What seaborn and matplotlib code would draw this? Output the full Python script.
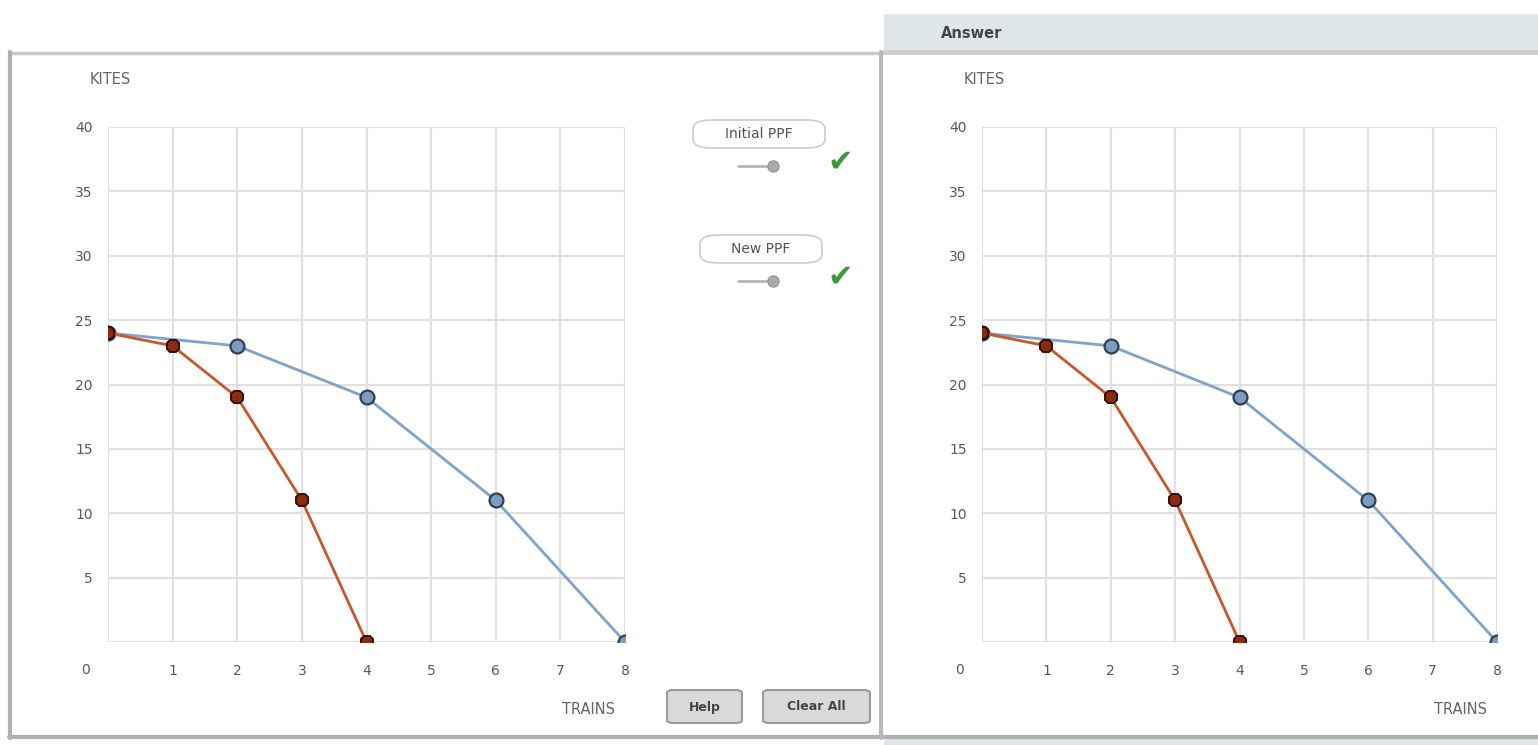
import numpy as np
import matplotlib
matplotlib.use("Agg")
import matplotlib.pyplot as plt
from matplotlib.patches import Rectangle, FancyBboxPatch
from matplotlib.lines import Line2D
import seaborn as sns

sns.set_theme(style="white")
plt.rcParams['font.family'] = ['DejaVu Sans']

# data
trains_initial = [0, 2, 4, 6, 8]
kites_initial = [24, 23, 19, 11, 0]
trains_new = [0, 1, 2, 3, 4]
kites_new = [24, 23, 19, 11, 0]
x_ticks = [1, 2, 3, 4, 5, 6, 7, 8]
y_ticks = [5, 10, 15, 20, 25, 30, 35, 40]
legend_labels = ["Initial PPF", "New PPF"]

W, H = 1538, 745
fig = plt.figure(figsize=(W / 100, H / 100), dpi=100)
fig.patch.set_facecolor("white")

blue_line = "#7fa3c9"
blue_fill = "#7d9cc0"
blue_edge = "#2e3f56"
red_line = "#c9572c"
red_fill = "#8a2c12"
red_edge = "#3c0c02"
txt = "#5a5a5a"


def fx(x):
    return x / W


def fy(y):
    return 1 - y / H


def rect(x0, y0, x1, y1, **kw):
    fig.patches.append(Rectangle((fx(x0), fy(y1)), fx(x1 - x0), (y1 - y0) / H,
                                 transform=fig.transFigure, **kw))


def hline(x0, x1, y, **kw):
    fig.lines.append(Line2D([fx(x0), fx(x1)], [fy(y), fy(y)], transform=fig.transFigure, **kw))


def vline(x, y0, y1, **kw):
    fig.lines.append(Line2D([fx(x), fx(x)], [fy(y0), fy(y1)], transform=fig.transFigure, **kw))


# panel frames
rect(884, 14, 1538, 50, facecolor="#dfe6e9", edgecolor="none")
hline(884, 1538, 52, color="#cdd0d2", lw=3.5)
rect(884, 739, 1538, 745, facecolor="#dfe6e9", edgecolor="none")
hline(9, 882, 53, color="#c8c8c8", lw=2.5)
vline(10, 52, 738, color="#b0b0b0", lw=3)
hline(9, 1538, 737, color="#b0b0b0", lw=3)
vline(881, 52, 738, color="#b8b8b8", lw=3)
fig.text(fx(972), fy(33), "Answer", ha="center", va="center", fontsize=10.5,
         color="#444444", fontweight="bold")


def draw_panel(x0_px, x8_px):
    ax = fig.add_axes([fx(x0_px), fy(642), fx(x8_px - x0_px), (642 - 127) / H])
    ax.set_facecolor("white")
    sns.lineplot(x=trains_initial, y=kites_initial, ax=ax, color=blue_line, lw=2.0,
                 marker="o", markersize=10, markerfacecolor=blue_fill,
                 markeredgecolor=blue_edge, markeredgewidth=1.6, zorder=3)
    sns.lineplot(x=trains_new, y=kites_new, ax=ax, color=red_line, lw=2.0,
                 marker="8", markersize=10, markerfacecolor=red_fill,
                 markeredgecolor=red_edge, markeredgewidth=1.4, zorder=4)
    ax.set_xlim(0, 8)
    ax.set_ylim(0, 40)
    ax.set_xticks(x_ticks)
    ax.set_yticks(y_ticks)
    ax.set_xticklabels([str(t) for t in x_ticks], fontsize=10, color=txt)
    ax.set_yticklabels([str(t) for t in y_ticks], fontsize=10, color=txt)
    ax.tick_params(axis="x", length=0, pad=16)
    ax.tick_params(axis="y", length=0, pad=11)
    ax.grid(True, color="#e0e0e0", lw=1.6)
    for s in ax.spines.values():
        s.set_visible(False)
    ax.axvline(0, color="#e0e0e0", lw=1.6, zorder=0)
    ax.axhline(0, color="#e0e0e0", lw=1.6, zorder=0)
    ax.set_xlabel("")
    ax.set_ylabel("")
    # origin label and axis names
    fig.text(fx(x0_px - 23), fy(670), "0", ha="center", va="center", fontsize=10, color=txt)
    fig.text(fx(x0_px + 2), fy(80), "KITES", ha="center", va="center", fontsize=10.5,
             color="#666666")
    fig.text(fx(x8_px - 36), fy(709), "TRAINS", ha="center", va="center", fontsize=10.5,
             color="#666666")
    return ax


draw_panel(108, 625)
draw_panel(982, 1497)

# legend controls on the left panel
for i, (label, cy) in enumerate(zip(legend_labels, [134, 249])):
    w = 132 if i == 0 else 122
    cx = 759 if i == 0 else 761
    fig.patches.append(FancyBboxPatch((fx(cx - w / 2), fy(cy + 14)), fx(w), 28 / H,
                                      boxstyle="round,pad=0,rounding_size=0.012",
                                      transform=fig.transFigure, facecolor="white",
                                      edgecolor="#cccccc", lw=1.2))
    fig.text(fx(cx), fy(cy), label, ha="center", va="center", fontsize=10, color="#555555")
    sy = cy + 32
    hline(738, 773, sy, color="#b5b5b5", lw=2)
    fig.lines.append(Line2D([fx(773)], [fy(sy)], transform=fig.transFigure, marker="o",
                            markersize=8, color="#a9a9a9", markeredgecolor="#999999"))
    fig.text(fx(840), fy(sy - 4), "\u2714", ha="center", va="center", fontsize=22,
             color="#3c9a3c")

# buttons
for label, x0, x1 in [("Help", 667, 742), ("Clear All", 763, 870)]:
    fig.patches.append(FancyBboxPatch((fx(x0), fy(723)), fx(x1 - x0), 33 / H,
                                      boxstyle="round,pad=0,rounding_size=0.004",
                                      transform=fig.transFigure, facecolor="#d9d9d9",
                                      edgecolor="#9a9a9a", lw=1.5))
    fig.text(fx((x0 + x1) / 2), fy(707), label, ha="center", va="center", fontsize=9,
             color="#444444", fontweight="bold")

fig.savefig("out.png", dpi=100, facecolor="white")
